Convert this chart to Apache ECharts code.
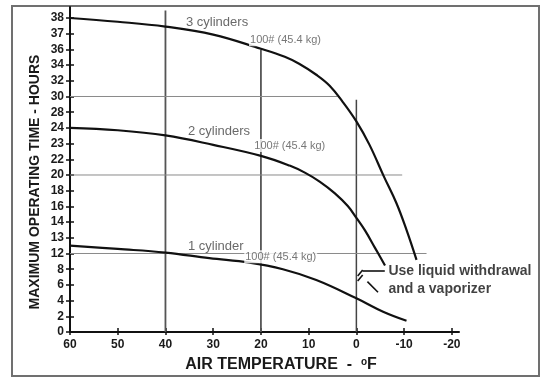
<!DOCTYPE html>
<html><head><meta charset="utf-8">
<script src="https://cdn.jsdelivr.net/npm/echarts@6/dist/echarts.min.js"></script>
<style>html,body{margin:0;padding:0;background:#fff}#c{width:550px;height:383px}</style>
</head><body><div id="c"></div>
<script>
// ---- data ----
const yTickLabels = [0,2,4,6,8,12,13,14,16,18,20,22,23,24,28,30,32,34,36,37,38];
const xTickLabels = [60,50,40,30,20,10,0,-10,-20];

const temps3 = [60,50,40,30,20,15,12,8.4,5.6,2.8,0,-2.7,-5.8,-8.4,-10.5,-12.6];
const hours3 = [38,37.76,37.45,36.94,36.04,35.06,34.17,32.77,31.37,29.26,25.64,22.95,19.76,16.4,13.5,10.36];

const temps2 = [60,50,40,30,20,14,10.8,7.7,4.5,1.8,0,-1.8,-3.9,-6.0];
const hours2 = [24,23.85,23.52,22.92,22.22,21.2,20.3,19.16,17.66,16.04,14.54,13.47,12.36,8.96];

const temps1 = [60,50,40,30.8,22.4,15.4,8.4,0,-5.6,-10.5];
const hours1 = [12.5,12.29,12.06,10.8,9.68,8.0,6.63,4.3,2.59,1.44];

const refVertTemps = [40,20,0];
const refVertTops = [38.47,36.0,29.6];
const refHorizHours = [30,20,12];
const refHorizEnds = [4,-9.6,-14.7];

const curveNames = ['3 cylinders','2 cylinders','1 cylinder'];
const curveLabelTemps = [35.8,35.4,35.4];
const curveLabelHours = [37.72,23.75,12.44];
const weightText = '100# (45.4 kg)';
const weightLabelTemps = [22.6,21.7,23.6];
const weightLabelHours = [36.62,22.88,11.2];

const noteLines = ['Use liquid withdrawal','and a vaporizer'];
const noteTemps = [-6.6,-6.6];
const noteHours = [7.71,5.48];
const arrowFrom = [-1.3,7.78], arrowTo = [-5.95,7.78];
const breakMarks = [[[-0.27,7.14],[-1.32,7.9]],[[-0.27,6.5],[-1.32,7.27]],[[-2.31,6.41],[-4.53,5.06]]];

// map hours onto the (non-uniform) tick ladder of the axis
function toAxis(h){
  const L = yTickLabels, n = L.length;
  if (h >= L[n-1]) return (n-1) + (h - L[n-1])/(L[n-1]-L[n-2]);
  for (let i=0;i<n-1;i++){
    if (h >= L[i] && h <= L[i+1]) return i + (h-L[i])/(L[i+1]-L[i]);
  }
  return 0;
}
const pts = (t,h)=>t.map((v,i)=>[v,toAxis(h[i])]);

const FONT = '"Liberation Sans", Arial, Helvetica, sans-serif';
const series = [];

// reference lines
refVertTemps.forEach((t,i)=>{
  series.push({type:'line',silent:true,symbol:'none',z:1,
    data:[[t,0],[t,toAxis(refVertTops[i])]],
    lineStyle:{color: t===0 ? '#444' : '#555', width: t===0 ? 1.5 : 1.8}});
});
refHorizHours.forEach((h,i)=>{
  series.push({type:'line',silent:true,symbol:'none',z:1,
    data:[[60,toAxis(h)],[refHorizEnds[i],toAxis(h)]],
    lineStyle:{color:'#8a8a8a', width:1}});
});

// curves
[[temps3,hours3],[temps2,hours2],[temps1,hours1]].forEach(([t,h])=>{
  series.push({type:'line',silent:true,symbol:'none',z:3,smooth:0.4,
    data:pts(t,h), lineStyle:{color:'#111', width:2.2}});
});

// annotation marks
breakMarks.forEach(seg=>{
  series.push({type:'line',silent:true,symbol:'none',z:3,
    data:seg.map(p=>[p[0],toAxis(p[1])]), lineStyle:{color:'#111',width:1.6}});
});
series.push({type:'line',silent:true,symbol:'none',data:[],
  markLine:{silent:true,animation:false,symbol:['none','arrow'],symbolSize:[0,8],
    label:{show:false}, lineStyle:{color:'#111',width:1.6,type:'solid'},
    data:[[{coord:[arrowFrom[0],toAxis(arrowFrom[1])]},{coord:[arrowTo[0],toAxis(arrowTo[1])]}]]}});

// text labels
const labelData = [];
curveNames.forEach((s,i)=>labelData.push({value:[curveLabelTemps[i],toAxis(curveLabelHours[i])],
  label:{formatter:s,fontSize:13,color:'#444'}}));
weightLabelTemps.forEach((t,i)=>labelData.push({value:[t,toAxis(weightLabelHours[i])],
  label:{formatter:weightText,fontSize:11,color:'#555',backgroundColor:'#fff',padding:[1,1]}}));
noteLines.forEach((s,i)=>labelData.push({value:[noteTemps[i],toAxis(noteHours[i])],
  label:{formatter:s,fontSize:14,fontWeight:'bold',color:'#111'}}));
series.push({type:'scatter',silent:true,symbolSize:1,z:10,itemStyle:{color:'transparent'},
  label:{show:true,position:'right',distance:0,fontFamily:FONT},data:labelData});

const axisLabelStyle = {fontFamily:FONT,fontWeight:'bold',fontSize:12,color:'#1a1a1a'};
const xCommon = {type:'value',inverse:true,min:-21.5,max:60,gridIndex:0,position:'bottom',splitLine:{show:false}};
const yCommon = {type:'value',min:0,max:20.7,gridIndex:0,position:'left',splitLine:{show:false}};
const yIdx = yTickLabels.map((v,i)=>i);

const option = {
  animation:false,
  backgroundColor:'#fff',
  grid:{left:70,right:91,top:7,bottom:51},
  xAxis:[
    Object.assign({},xCommon,{
      axisLine:{show:true,onZero:false,lineStyle:{color:'#111',width:2}},
      axisTick:{show:true,inside:false,length:3,customValues:xTickLabels,lineStyle:{color:'#111',width:1.5}},
      axisLabel:Object.assign({show:true,margin:7,customValues:xTickLabels},axisLabelStyle)}),
    Object.assign({},xCommon,{
      axisLine:{show:false,onZero:false},
      axisTick:{show:true,inside:true,length:4,customValues:xTickLabels,lineStyle:{color:'#111',width:1.5}},
      axisLabel:{show:false}})
  ],
  yAxis:[
    Object.assign({},yCommon,{
      axisLine:{show:true,onZero:false,lineStyle:{color:'#111',width:2}},
      axisTick:{show:true,inside:false,length:4,customValues:yIdx,lineStyle:{color:'#111',width:1.5}},
      axisLabel:Object.assign({show:true,margin:6,customValues:yIdx,
        formatter:v=>{const k=Math.round(v);return Math.abs(v-k)<1e-6 && yTickLabels[k]!==undefined ? String(yTickLabels[k]) : '';}},axisLabelStyle)}),
    Object.assign({},yCommon,{
      axisLine:{show:false,onZero:false},
      axisTick:{show:true,inside:true,length:4,customValues:yIdx,lineStyle:{color:'#111',width:1.5}},
      axisLabel:{show:false}})
  ],
  graphic:[
    {type:'rect',silent:true,shape:{x:12,y:6,width:527,height:370},
      style:{fill:'none',stroke:'#707070',lineWidth:2}},
    {type:'text',silent:true,x:35,y:182,rotation:Math.PI/2,
      style:{text:'MAXIMUM OPERATING TIME - HOURS',fontFamily:FONT,fontWeight:'bold',fontSize:14,
        fill:'#1a1a1a',align:'center',verticalAlign:'middle'}},
    {type:'text',silent:true,x:281,y:365,
      style:{text:'AIR TEMPERATURE  -  {s|o}F',fontFamily:FONT,fontWeight:'bold',fontSize:16,
        fill:'#1a1a1a',align:'center',verticalAlign:'middle',
        rich:{s:{fontFamily:FONT,fontWeight:'bold',fontSize:10,fill:'#1a1a1a',verticalAlign:'top',padding:[0,0,6,0]}}}}
  ],
  series:series
};
const chart = echarts.init(document.getElementById('c'),null,{renderer:'canvas'});
chart.setOption(option);
</script></body></html>
